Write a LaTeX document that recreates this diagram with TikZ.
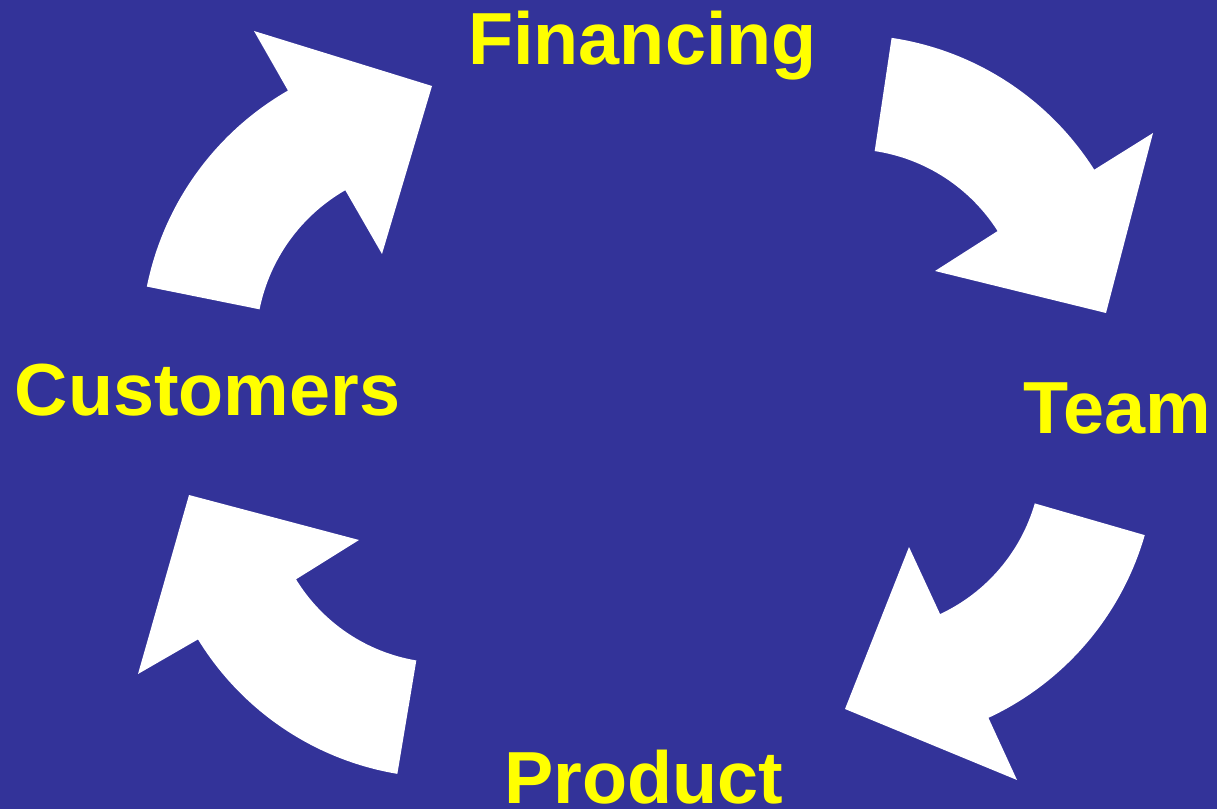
\documentclass[tikz,border=0pt]{standalone}
\usepackage{fontspec}
\setmainfont{Liberation Sans}
\usetikzlibrary{calc}

\definecolor{slideblue}{HTML}{333399}
\definecolor{labelyellow}{HTML}{FFFF00}

\begin{document}
\begin{tikzpicture}[
            x = 0.02cm, y = 0.02cm,
            every node/.style={text=labelyellow, inner sep=0pt, anchor=base,
                               font=\bfseries\fontsize{42}{50}\selectfont},
            band/.style={fill=white},
            ]

        \useasboundingbox (0,0) rectangle (1217,809);
        \fill[slideblue] (0,0) rectangle (1217,809);

        % centres of the four curved arrows
        \coordinate (hub1) at (434,464.5);
        \coordinate (hub2) at (848.6,483.4);
        \coordinate (hub3) at (865.7,354.4);
        \coordinate (hub4) at (445.2,321.1);

        \node (financing) at (642.5,744) {Financing};
        \node (team)      at (1117.5,376) {Team};
        \node (product)   at (643.5,6)   {Product};
        \node (customers) at (207.5,394) {Customers};

        % customers -> financing
        \fill[band] ($(hub1)+(168.6:5.86cm)$) arc[start angle=168.6, end angle=119.9, radius=5.86cm]
            -- (254,778) -- (432,723) -- (382,555)
            -- ($(hub1)+(119.9:3.56cm)$) arc[start angle=119.9, end angle=168.6, radius=3.56cm] -- cycle;
        % financing -> team
        \fill[band] ($(hub2)+(81.5:5.82cm)$) arc[start angle=81.5, end angle=32.4, radius=5.82cm]
            -- (1153,676) -- (1106,496) -- (935,538)
            -- ($(hub2)+(32.4:3.53cm)$) arc[start angle=32.4, end angle=81.5, radius=3.53cm] -- cycle;
        % team -> product
        \fill[band] ($(hub3)+(-16.1:5.81cm)$) arc[start angle=-16.1, end angle=-65, radius=5.81cm]
            -- (1017,29) -- (845,100) -- (909,262)
            -- ($(hub3)+(-65:3.52cm)$) arc[start angle=-65, end angle=-16.1, radius=3.52cm] -- cycle;
        % product -> customers
        \fill[band] ($(hub4)+(260.5:5.80cm)$) arc[start angle=260.5, end angle=211.5, radius=5.80cm]
            -- (138,135) -- (189,314) -- (359,269)
            -- ($(hub4)+(211.5:3.50cm)$) arc[start angle=211.5, end angle=260.5, radius=3.50cm] -- cycle;
    \end{tikzpicture}
\end{document}
